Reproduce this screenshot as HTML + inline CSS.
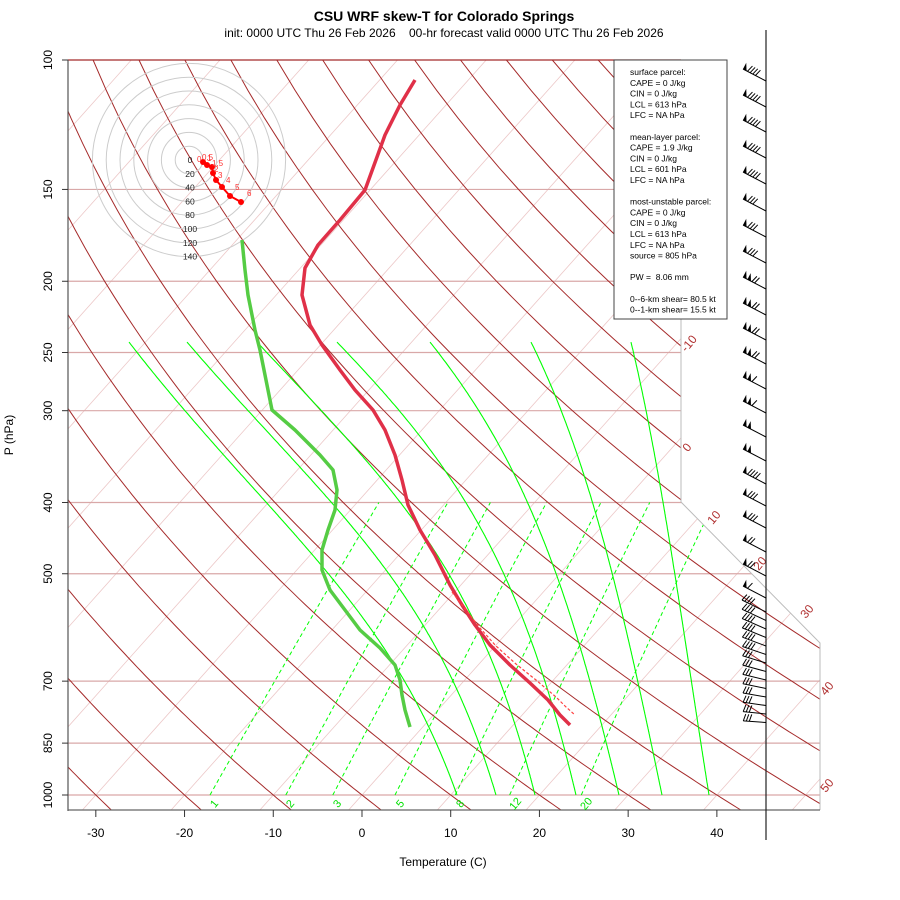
<!DOCTYPE html>
<html><head><meta charset="utf-8">
<style>
html,body{margin:0;padding:0;background:#fff;}
svg{display:block;font-family:"Liberation Sans",sans-serif;}
</style></head>
<body>
<svg id="s" width="900" height="900" viewBox="0 0 900 900" xmlns="http://www.w3.org/2000/svg">
<rect width="900" height="900" fill="#fff"/>
<defs><clipPath id="cp"><polygon points="68,60 681,60 681,502 820,643 820,810 68,810"/></clipPath></defs>
<g id="grid" clip-path="url(#cp)"></g>
<g id="fore"></g>
<text x="444" y="21" text-anchor="middle" font-size="14" font-weight="bold">CSU WRF skew-T for Colorado Springs</text>
<text x="444" y="37" text-anchor="middle" font-size="12" xml:space="preserve">init: 0000 UTC Thu 26 Feb 2026    00-hr forecast valid 0000 UTC Thu 26 Feb 2026</text>
<text x="443" y="866" text-anchor="middle" font-size="12">Temperature (C)</text>
<text transform="translate(13,435) rotate(-90)" text-anchor="middle" font-size="12">P (hPa)</text>
</svg>
<script>
(function(){
function X(T,p){var yu=132.182-44.061*Math.log10(p);return 362+16.43*(0.54*T+0.90692*yu);}
function Y(p){return 60+735*Math.log10(p/100);}
var g=document.getElementById('grid'),f=document.getElementById('fore');
var out='';
function pl(pts,st){return '<polyline fill="none" points="'+pts.map(function(q){return q[0].toFixed(1)+','+q[1].toFixed(1);}).join(' ')+'" '+st+'/>';}
for(var T=-160;T<=60;T+=10){out+=pl([[X(T,1050),Y(1050)],[X(T,100),Y(100)]],'stroke="#ecc8c8" stroke-width="0.8"');}
[150,200,250,300,400,500,700,850,1000].forEach(function(p){out+='<line x1="68" x2="820" y1="'+Y(p)+'" y2="'+Y(p)+'" stroke="#d9a8a8" stroke-width="1.2"/>';});
for(var th=-40;th<=200;th+=10){var pts=[];for(var p=1050;p>=100;p-=10){var Tk=(th+273.15)*Math.pow(p/1000,0.286)-273.15;var sh=14*Math.log10(1000/p);pts.push([X(Tk,p)+sh,Y(p)]);}out+=pl(pts,'stroke="#a52a2a" stroke-width="1"');}
function es(T){return 6.112*Math.exp(17.67*T/(T+243.5));}
function moist(T0,ptop){var pts=[],T=T0+273.15,p=1000,dp=-2;pts.push([X(T0,1000),Y(1000)]);
 while(p>ptop){var e=es(T-273.15),rs=0.622*e/(p-e),Lv=2.5e6,Rd=287,cp=1005;
 var dTdp=(Rd*T+Lv*rs)/(p*(cp+Lv*Lv*rs*0.622/(Rd*T*T)));T+=dTdp*dp;p+=dp;pts.push([X(T-273.15,p),Y(p)]);}
 return pts;}
var ptop=242,yb=Y(1000),yt=Y(ptop);
[[129,457],[187,496],[257,535],[337,576],[430,619],[531,662],[631,709]].forEach(function(a){
 var T0=(a[1]-362)/8.87;var pts=moist(T0,ptop);var dtop=a[0]-pts[pts.length-1][0];var db=a[1]-pts[0][0];
 pts=pts.map(function(q){var t=(yb-q[1])/(yb-yt);return [q[0]+db*(1-t)+dtop*t,q[1]];});
 out+=pl(pts,'stroke="#00ff00" stroke-width="1.1"');});
[1,2,3,5,8,12,20].forEach(function(w){var pts=[];for(var p=1000;p>=400;p-=10){var e=w*p/(622+w),l=Math.log(e/6.112),Td=243.5*l/(17.67-l);pts.push([X(Td,p),Y(p)]);}out+=pl(pts,'stroke="#00ff00" stroke-width="1" stroke-dasharray="4,3"');});
g.innerHTML=out;
var o='';
o+='<polyline fill="none" stroke="#bbb" stroke-width="1" points="681,60 681,502 820,643 820,810"/>';
o+='<line x1="68" y1="60" x2="681" y2="60" stroke="#a52a2a" stroke-width="1.2"/>';
o+='<line x1="68" y1="60" x2="68" y2="811" stroke="#555" stroke-width="1.2"/>';
o+='<line x1="68" y1="810" x2="820" y2="810" stroke="#666" stroke-width="1.2"/>';
[100,150,200,250,300,400,500,700,850,1000].forEach(function(p){var y=Y(p);o+='<line x1="62" x2="68" y1="'+y+'" y2="'+y+'" stroke="#333"/>';o+='<text transform="translate(52,'+y+') rotate(-90)" text-anchor="middle" font-size="12">'+p+'</text>';});
for(var t=-30;t<=40;t+=10){var x=X(t,1000);o+='<line x1="'+x+'" x2="'+x+'" y1="810" y2="817" stroke="#333"/><text x="'+x+'" y="837" text-anchor="middle" font-size="12">'+t+'</text>';}
[[-10,692,346],[0,690,450],[10,717,520],[20,763,566],[30,810,614],[40,830,691],[50,830,788]].forEach(function(a){o+='<text transform="translate('+a[1]+','+a[2]+') rotate(-50)" text-anchor="middle" font-size="12" fill="#b03030">'+a[0]+'</text>';});
[[1,217,806],[2,293,806],[3,340,806],[5,403,806],[8,463,806],[12,518,806],[20,589,806]].forEach(function(a){o+='<text transform="translate('+a[1]+','+a[2]+') rotate(-50)" text-anchor="middle" font-size="11" fill="#00e000">'+a[0]+'</text>';});
for(var k=1;k<=7;k++)o+='<circle cx="189" cy="160" r="'+(13.8*k)+'" fill="none" stroke="#ccc" stroke-width="1"/>';
for(var k=0;k<=7;k++)o+='<text x="190" y="'+(163+13.8*k)+'" text-anchor="middle" font-size="8.5" fill="#222">'+(k*20)+'</text>';
var hp=[[203,162],[207,165],[212,167],[213,173],[216,180],[222,187],[230,196],[241,202]];
o+=pl(hp,'stroke="#ff0000" stroke-width="2"');
hp.forEach(function(q){o+='<circle cx="'+q[0]+'" cy="'+q[1]+'" r="3" fill="#ff0000"/>';});
[["0",197,162],["0.5",202,160],["1",207,161],["1.5",212,166],["2",214,172],["3",218,178],["4",226,183],["5",235,190],["6",247,196]].forEach(function(a){o+='<text x="'+a[1]+'" y="'+a[2]+'" font-size="8" fill="#ff3030">'+a[0]+'</text>';});
var td=[[242,240],[245,270],[248,295],[255,330],[260,350],[265,375],[272,410],[295,430],[320,455],[333,470],[337,490],[335,510],[328,530],[322,550],[322,570],[330,590],[345,610],[360,630],[380,648],[395,665],[400,680],[402,695],[405,710],[410,727]];
o+=pl(td,'stroke="#55cc44" stroke-width="3.5" stroke-linejoin="round"');
var tt=[[415,80],[400,105],[385,135],[365,190],[340,220],[318,245],[305,268],[302,295],[310,325],[322,345],[340,370],[355,390],[373,410],[385,430],[395,455],[402,480],[408,505],[420,530],[435,555],[450,585],[462,605],[475,625],[490,645],[510,665],[530,683],[548,700],[560,715],[570,725]];
o+=pl(tt,'stroke="#e03048" stroke-width="3.5" stroke-linejoin="round"');
o+=pl([[452,592],[466,610],[480,628],[496,646],[516,664],[536,680],[556,697],[566,707],[575,715]],'stroke="#ff4040" stroke-width="1.2" stroke-dasharray="3,2"');
o+='<rect x="614" y="60" width="113" height="259" fill="#fff" stroke="#444" stroke-width="1"/>';
var L=["surface parcel:","CAPE = 0 J/kg","CIN = 0 J/kg","LCL = 613 hPa","LFC = NA hPa","","mean-layer parcel:","CAPE = 1.9 J/kg","CIN = 0 J/kg","LCL = 601 hPa","LFC = NA hPa","","most-unstable parcel:","CAPE = 0 J/kg","CIN = 0 J/kg","LCL = 613 hPa","LFC = NA hPa","source = 805 hPa","","PW =  8.06 mm","","0--6-km shear= 80.5 kt","0--1-km shear= 15.5 kt"];
L.forEach(function(s,i){if(s)o+='<text x="630" y="'+(75+10.8*i)+'" font-size="8.5" xml:space="preserve">'+s+'</text>';});
o+='<line x1="766" y1="30" x2="766" y2="840" stroke="#222" stroke-width="1.2"/>';
function barb(yb,dx,dy,np,nb){var len=Math.sqrt(dx*dx+dy*dy),ux=dx/len,uy=dy/len;var nx=-uy,ny=ux; if(ny>0){nx=-nx;ny=-ny;}
 var tx=766+dx,ty=yb+dy;var s='<line x1="766" y1="'+yb+'" x2="'+tx+'" y2="'+ty+'" stroke="#000" stroke-width="1"/>';
 var pos=0;
 for(var i=0;i<np;i++){var ax=tx-ux*pos,ay=ty-uy*pos,bx=tx-ux*(pos+4),by=ty-uy*(pos+4);s+='<polygon points="'+ax+','+ay+' '+bx+','+by+' '+(ax+nx*7)+','+(ay+ny*7)+'" fill="#000"/>';pos+=5;}
 for(var i=0;i<nb;i++){var ax=tx-ux*pos,ay=ty-uy*pos;s+='<line x1="'+ax+'" y1="'+ay+'" x2="'+(ax+nx*7-ux*2)+'" y2="'+(ay+ny*7-uy*2)+'" stroke="#000" stroke-width="1"/>';pos+=3;}
 return s;}
var top=[[81,1,4],[107,1,4],[132,1,4],[158,1,4],[184,1,4],[211,1,3],[237,1,3],[263,1,3],[289,2,2],[315,2,2],[340,2,2],[364,2,2],[389,2,1],[413,2,1],[437,2,0],[461,2,0],[484,1,4],[506,1,3],[528,1,3],[552,1,2],[576,1,2],[598,1,1]];
top.forEach(function(a){o+=barb(a[0],-23,-12,a[1],a[2]);});
for(var i=0;i<14;i++){var yb2=612+i*8.5;var dy=-12+i*0.8;o+=barb(yb2,-24+i*0.1,dy,0,i<6?4:3);}
f.innerHTML=o;
})();
</script>
</body></html>
